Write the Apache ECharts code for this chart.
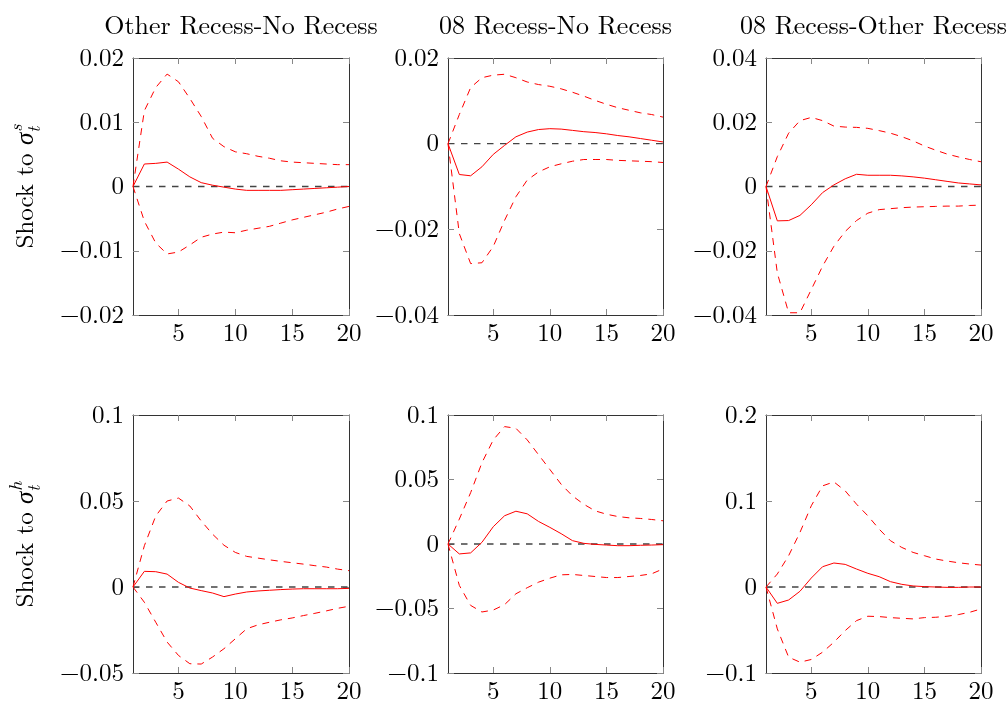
<!DOCTYPE html>
<html>
<head>
<meta charset="utf-8">
<script src="https://cdn.jsdelivr.net/npm/echarts@6/dist/echarts.min.js"></script>
<style>
html,body{margin:0;padding:0;background:#fff;}
#chart{width:1008px;height:704px;}
</style>
</head>
<body>
<div id="chart"></div>
<script>
// ---------- data ----------
const horizon = [1,2,3,4,5,6,7,8,9,10,11,12,13,14,15,16,17,18,19,20];
const xTicks = [5,10,15,20];
const panelTitles = ['Other Recess-No Recess','08 Recess-No Recess','08 Recess-Other Recess'];
const rowShocks = ['s','h'];

// y ranges [min, max, step] per panel
const yMins  = [-0.02, -0.04, -0.04, -0.05, -0.1, -0.1];
const yMaxs  = [ 0.02,  0.02,  0.04,  0.1,   0.1,  0.2];
const ySteps = [ 0.01,  0.02,  0.02,  0.05,  0.05, 0.1];

const zeroLine = [0, 0];

// Panel 1: Shock to sigma^s, Other Recess - No Recess
const p1Med = [0, 0.0035, 0.0036, 0.0038, 0.0027, 0.0015, 0.0006, 0.0002, -0.0001, -0.0004, -0.0006, -0.0006, -0.0006, -0.0006, -0.0005, -0.0004, -0.0003, -0.0002, -0.0001, 0];
const p1Hi  = [0, 0.0118, 0.0154, 0.0175, 0.0163, 0.0137, 0.0109, 0.0075, 0.0062, 0.0054, 0.0051, 0.0047, 0.0044, 0.0040, 0.0038, 0.0037, 0.0036, 0.0035, 0.0034, 0.0034];
const p1Lo  = [0, -0.0054, -0.0088, -0.0105, -0.0102, -0.0091, -0.0079, -0.0074, -0.0071, -0.0072, -0.0068, -0.0065, -0.0062, -0.0057, -0.0052, -0.0048, -0.0044, -0.0040, -0.0035, -0.0031];

// Panel 2: Shock to sigma^s, 08 Recess - No Recess
const p2Med = [0, -0.0072, -0.0075, -0.0054, -0.0025, -0.0004, 0.0016, 0.0027, 0.0033, 0.0035, 0.0034, 0.0031, 0.0028, 0.0026, 0.0023, 0.0019, 0.0016, 0.0012, 0.0008, 0.0004];
const p2Hi  = [0, 0.0068, 0.0131, 0.0154, 0.0160, 0.0162, 0.0154, 0.0144, 0.0138, 0.0134, 0.0128, 0.0120, 0.0111, 0.0101, 0.0092, 0.0084, 0.0078, 0.0072, 0.0068, 0.0062];
const p2Lo  = [0, -0.0210, -0.0280, -0.0278, -0.0240, -0.0179, -0.0124, -0.0085, -0.0066, -0.0054, -0.0047, -0.0041, -0.0037, -0.0037, -0.0037, -0.0039, -0.0040, -0.0041, -0.0042, -0.0044];

// Panel 3: Shock to sigma^s, 08 Recess - Other Recess
const p3Med = [0, -0.0107, -0.0106, -0.0090, -0.0057, -0.0019, 0.0005, 0.0024, 0.0038, 0.0035, 0.0035, 0.0035, 0.0033, 0.0030, 0.0026, 0.0021, 0.0016, 0.0011, 0.0008, 0.0005];
const p3Hi  = [0, 0.0093, 0.0166, 0.0205, 0.0215, 0.0205, 0.0188, 0.0185, 0.0184, 0.0181, 0.0174, 0.0166, 0.0155, 0.0142, 0.0126, 0.0113, 0.0101, 0.0092, 0.0084, 0.0077];
const p3Lo  = [0, -0.0269, -0.0393, -0.0393, -0.0321, -0.0248, -0.0186, -0.0140, -0.0106, -0.0083, -0.0072, -0.0069, -0.0066, -0.0064, -0.0063, -0.0062, -0.0061, -0.0061, -0.0059, -0.0058];

// Panel 4: Shock to sigma^h, Other Recess - No Recess
const p4Med = [0, 0.0091, 0.0089, 0.0075, 0.0027, -0.0006, -0.0021, -0.0035, -0.0056, -0.0041, -0.0029, -0.0023, -0.0019, -0.0015, -0.0012, -0.0010, -0.0010, -0.0010, -0.0010, -0.0008];
const p4Hi  = [0, 0.0240, 0.0413, 0.0500, 0.0517, 0.0471, 0.0384, 0.0307, 0.0243, 0.0201, 0.0178, 0.0168, 0.0158, 0.0149, 0.0141, 0.0133, 0.0124, 0.0116, 0.0104, 0.0095];
const p4Lo  = [0, -0.0089, -0.0205, -0.0320, -0.0398, -0.0446, -0.0448, -0.0407, -0.0359, -0.0301, -0.0243, -0.0220, -0.0205, -0.0191, -0.0180, -0.0166, -0.0153, -0.0139, -0.0124, -0.0112];

// Panel 5: Shock to sigma^h, 08 Recess - No Recess
const p5Med = [0, -0.0077, -0.0069, 0.0013, 0.0134, 0.0219, 0.0254, 0.0234, 0.0175, 0.0129, 0.0080, 0.0026, 0.0005, -0.0003, -0.0008, -0.0013, -0.0013, -0.0010, -0.0008, -0.0005];
const p5Hi  = [0, 0.0193, 0.0398, 0.0630, 0.0807, 0.0910, 0.0897, 0.0807, 0.0692, 0.0578, 0.0463, 0.0373, 0.0308, 0.0257, 0.0231, 0.0213, 0.0203, 0.0198, 0.0190, 0.0180];
const p5Lo  = [0, -0.0321, -0.0476, -0.0527, -0.0512, -0.0470, -0.0386, -0.0339, -0.0296, -0.0265, -0.0239, -0.0236, -0.0244, -0.0252, -0.0260, -0.0260, -0.0252, -0.0244, -0.0231, -0.0193];

// Panel 6: Shock to sigma^h, 08 Recess - Other Recess
const p6Med = [0, -0.0190, -0.0151, -0.0050, 0.0104, 0.0236, 0.0279, 0.0263, 0.0209, 0.0159, 0.0120, 0.0062, 0.0031, 0.0012, 0.0004, 0, -0.0004, -0.0004, 0, 0];
const p6Hi  = [0, 0.0151, 0.0364, 0.0634, 0.0944, 0.1176, 0.1222, 0.1118, 0.0963, 0.0828, 0.0673, 0.0538, 0.0460, 0.0402, 0.0364, 0.0325, 0.0302, 0.0282, 0.0267, 0.0255];
const p6Lo  = [0, -0.0487, -0.0816, -0.0874, -0.0843, -0.0758, -0.0642, -0.0507, -0.0391, -0.0340, -0.0344, -0.0356, -0.0364, -0.0371, -0.0356, -0.0352, -0.0340, -0.0321, -0.0294, -0.0255];

const medians = [p1Med, p2Med, p3Med, p4Med, p5Med, p6Med];
const uppers  = [p1Hi, p2Hi, p3Hi, p4Hi, p5Hi, p6Hi];
const lowers  = [p1Lo, p2Lo, p3Lo, p4Lo, p5Lo, p6Lo];

// ---------- layout / style ----------
const FONT = '"Latin Modern Roman", "Liberation Serif", serif';
const FS = 25;
const TFS = 26;
const colLefts = [133, 448, 766];
const colWidths = [216, 215, 215];
const rowTops = [58, 415];
const rowHeights = [257, 259];

function fmtY(v){
  if (Math.abs(v) < 1e-12) return '0';
  const s = parseFloat(Math.abs(v).toFixed(4)).toString();
  return (v < 0 ? '\u2212' : '') + s;
}
const zip = (a) => horizon.map((x,i)=>[x, a[i]]);

const grid = [], xAxis = [], yAxis = [], series = [], graphic = [];
const tickStyle = {color:'#888', width:1};
const axisLineStyle = {color:'#333', width:1};

for (let p = 0; p < 6; p++){
  const r = Math.floor(p/3), c = p % 3;
  grid.push({left: colLefts[c], top: rowTops[r], width: colWidths[c], height: rowHeights[r], containLabel:false});
  xAxis.push({
    type:'value', gridIndex:p, min:1, max:20, position:'bottom',
    axisLine:{show:true, onZero:false, lineStyle:axisLineStyle},
    axisTick:{show:true, inside:true, length:6, customValues:xTicks, lineStyle:tickStyle},
    axisLabel:{show:true, customValues:xTicks, margin:6, fontFamily:FONT, fontSize:FS, color:'#000'},
    splitLine:{show:false}
  });
  xAxis.push({
    type:'value', gridIndex:p, min:1, max:20, position:'top',
    axisLine:{show:true, onZero:false, lineStyle:axisLineStyle},
    axisTick:{show:true, inside:true, length:6, customValues:xTicks, lineStyle:tickStyle},
    axisLabel:{show:false, customValues:xTicks},
    splitLine:{show:false}
  });
  yAxis.push({
    type:'value', gridIndex:p, min:yMins[p], max:yMaxs[p], interval:ySteps[p], position:'left',
    axisLine:{show:true, onZero:false, lineStyle:axisLineStyle},
    axisTick:{show:true, inside:true, length:6, lineStyle:tickStyle},
    axisLabel:{show:true, margin:9, fontFamily:FONT, fontSize:FS, color:'#000', formatter:fmtY},
    splitLine:{show:false}
  });
  yAxis.push({
    type:'value', gridIndex:p, min:yMins[p], max:yMaxs[p], interval:ySteps[p], position:'right',
    axisLine:{show:true, onZero:false, lineStyle:axisLineStyle},
    axisTick:{show:true, inside:true, length:6, lineStyle:tickStyle},
    axisLabel:{show:false},
    splitLine:{show:false}
  });
  const xi = p*2, yi = p*2;
  series.push({
    type:'line', xAxisIndex:xi, yAxisIndex:yi, data:[[1,zeroLine[0]],[20,zeroLine[1]]],
    symbol:'none', silent:true, z:1,
    lineStyle:{color:'#444', width:1.3, type:[6.5,6.5]}
  });
  series.push({
    type:'line', xAxisIndex:xi, yAxisIndex:yi, data:zip(uppers[p]),
    symbol:'none', silent:true, z:2,
    lineStyle:{color:'#ff0000', width:1, type:[7,6]}
  });
  series.push({
    type:'line', xAxisIndex:xi, yAxisIndex:yi, data:zip(lowers[p]),
    symbol:'none', silent:true, z:2,
    lineStyle:{color:'#ff0000', width:1, type:[7,6]}
  });
  series.push({
    type:'line', xAxisIndex:xi, yAxisIndex:yi, data:zip(medians[p]),
    symbol:'none', silent:true, z:3,
    lineStyle:{color:'#ff0000', width:1, type:'solid'}
  });
}

// column titles
for (let c = 0; c < 3; c++){
  graphic.push({
    type:'text', x: colLefts[c] + colWidths[c]/2, y: 26,
    style:{text: panelTitles[c], fill:'#000', font: TFS + 'px ' + FONT, align:'center', verticalAlign:'middle'}
  });
}

// row labels "Shock to σ_t^x" (rotated)
const mctx = document.createElement('canvas').getContext('2d');
mctx.font = FS + 'px ' + FONT;
const wMainA = mctx.measureText('Shock to ').width;
mctx.font = 'italic ' + FS + 'px ' + FONT;
const wSigma = mctx.measureText('\u03C3').width;
const SFS = 18;
mctx.font = 'italic ' + SFS + 'px ' + FONT;
for (let r = 0; r < 2; r++){
  const wSup = mctx.measureText(rowShocks[r]).width;
  const wSub = mctx.measureText('t').width;
  const W = wMainA + wSigma + Math.max(wSup, wSub) + 1;
  const x0 = -W/2;
  graphic.push({
    type:'group', x: 25, y: rowTops[r] + rowHeights[r]/2, rotation: Math.PI/2,
    children:[
      {type:'text', x:x0, y:0, style:{text:'Shock to ', fill:'#000', font: FS+'px '+FONT, align:'left', verticalAlign:'middle'}},
      {type:'text', x:x0 + wMainA, y:0, style:{text:'\u03C3', fill:'#000', font: 'italic '+FS+'px '+FONT, align:'left', verticalAlign:'middle'}},
      {type:'text', x:x0 + wMainA + wSigma + 1, y:-9, style:{text:rowShocks[r], fill:'#000', font:'italic '+SFS+'px '+FONT, align:'left', verticalAlign:'middle'}},
      {type:'text', x:x0 + wMainA + wSigma + 0, y:9, style:{text:'t', fill:'#000', font:'italic '+SFS+'px '+FONT, align:'left', verticalAlign:'middle'}}
    ]
  });
}

const chart = echarts.init(document.getElementById('chart'), null, {renderer:'canvas'});
chart.setOption({
  animation:false,
  backgroundColor:'#fff',
  grid, xAxis, yAxis, series, graphic
});
</script>
</body>
</html>
